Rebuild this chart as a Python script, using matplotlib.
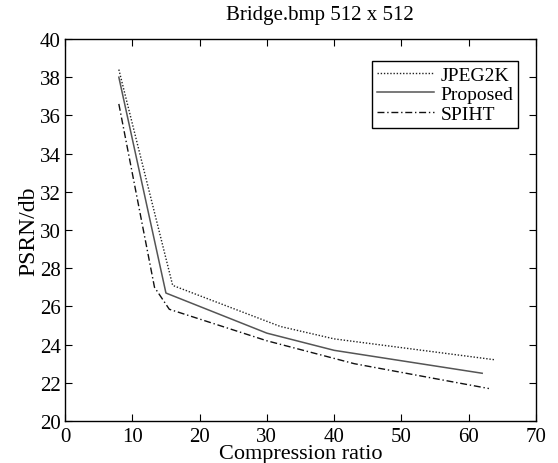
import matplotlib
matplotlib.use("Agg")
import matplotlib.pyplot as plt

plt.rcParams['font.family'] = ['Liberation Serif', 'DejaVu Serif']

jpeg_x = [8, 16, 32, 40, 64]
jpeg_y = [38.4, 27.1, 24.95, 24.3, 23.2]
prop_x = [8, 15, 30, 40, 62]
prop_y = [38.0, 26.7, 24.6, 23.7, 22.5]
spiht_x = [8, 13.3, 15.5, 30, 43, 63]
spiht_y = [36.6, 27.0, 25.85, 24.2, 23.0, 21.7]

xticks = [0, 10, 20, 30, 40, 50, 60, 70]
yticks = [20, 22, 24, 26, 28, 30, 32, 34, 36, 38, 40]

fig = plt.figure(figsize=(5.58, 4.64), dpi=100)
ax = fig.add_axes([0.1165, 0.0905, 0.8441, 0.8233])

ax.plot(jpeg_x, jpeg_y, linestyle=(0, (1, 1.3)), color='#222222', lw=1.0, label='JPEG2K')
ax.plot(prop_x, prop_y, linestyle='-', color='#555555', lw=1.1, label='Proposed')
ax.plot(spiht_x, spiht_y, linestyle=(0, (5, 2, 1, 2)), color='#111111', lw=1.0, label='SPIHT')

ax.set_xlim(0, 70)
ax.set_ylim(20, 40)
ax.set_xticks(xticks)
ax.set_yticks(yticks)
ax.tick_params(direction='in', top=True, right=True, labelsize=15, length=5)
ax.tick_params(axis='x', pad=4)
ax.tick_params(axis='y', pad=3)
for s in ax.spines.values():
    s.set_linewidth(1.0)

ax.set_xlabel('Compression ratio', fontsize=16, labelpad=-1)
ax.set_ylabel('PSRN/db', fontsize=17, labelpad=0)
fig.text(0.5735, 1 - 20 / 464, 'Bridge.bmp 512 x 512', fontsize=15,
         ha='center', va='baseline')

leg = ax.legend(loc='upper right', bbox_to_anchor=(0.962, 0.942), fontsize=14,
                frameon=True, fancybox=False, edgecolor='black', framealpha=1,
                handlelength=2.9, borderpad=0.25, labelspacing=0.1,
                handletextpad=0.35, borderaxespad=0)
leg.get_frame().set_linewidth(1.0)

fig.savefig('out.png', dpi=100)
